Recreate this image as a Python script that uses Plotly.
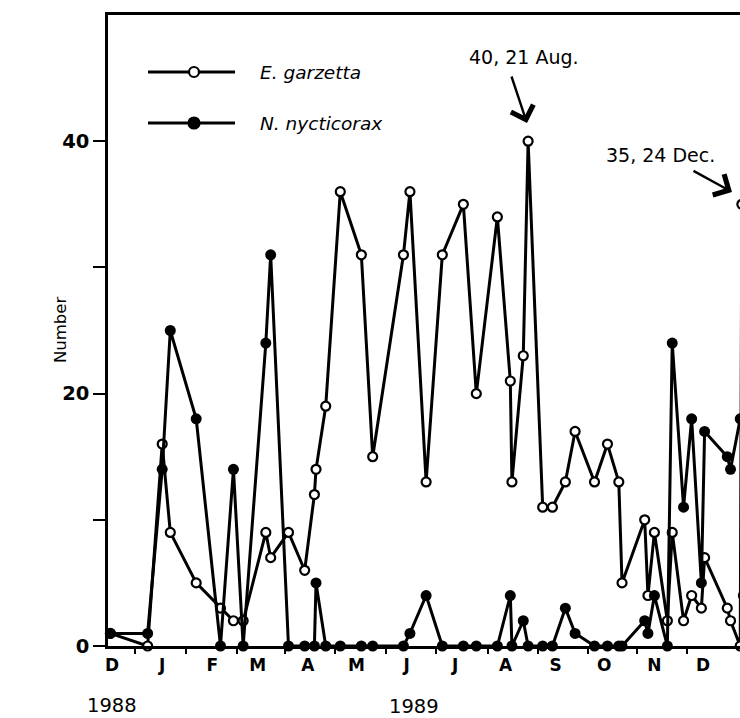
import plotly.graph_objects as go

# ---------------- data ----------------
egar_dates = [
    "1988-11-30", "1988-12-23", "1989-01-01", "1989-01-06", "1989-01-22",
    "1989-02-06", "1989-02-14", "1989-02-20", "1989-03-06", "1989-03-09",
    "1989-03-20", "1989-03-30", "1989-04-05", "1989-04-06", "1989-04-12",
    "1989-04-21", "1989-05-04", "1989-05-11", "1989-05-30", "1989-06-03",
    "1989-06-13", "1989-06-23", "1989-07-06", "1989-07-14", "1989-07-27",
    "1989-08-04", "1989-08-05", "1989-08-12", "1989-08-15", "1989-08-24",
    "1989-08-30", "1989-09-07", "1989-09-13", "1989-09-25", "1989-10-03",
    "1989-10-10", "1989-10-12", "1989-10-26", "1989-10-28", "1989-11-01",
    "1989-11-09", "1989-11-12", "1989-11-19", "1989-11-24", "1989-11-30",
    "1989-12-02", "1989-12-16", "1989-12-18", "1989-12-24",
    "1989-12-25", "1989-12-26",
]
egar_counts = [
    1, 0, 16, 9, 5,
    3, 2, 2, 9, 7,
    9, 6, 12, 14, 19,
    36, 31, 15, 31, 36,
    13, 31, 35, 20, 34,
    21, 13, 23, 40, 11,
    11, 13, 17, 13, 16,
    13, 5, 10, 4, 9,
    2, 9, 2, 4, 3,
    7, 3, 2, 0,
    35, 4,
]

nnyc_dates = [
    "1988-11-30", "1988-12-23", "1989-01-01", "1989-01-06", "1989-01-22",
    "1989-02-06", "1989-02-14", "1989-02-20", "1989-03-06", "1989-03-09",
    "1989-03-20", "1989-03-30", "1989-04-05", "1989-04-06", "1989-04-12",
    "1989-04-21", "1989-05-04", "1989-05-11", "1989-05-30", "1989-06-03",
    "1989-06-13", "1989-06-23", "1989-07-06", "1989-07-14", "1989-07-27",
    "1989-08-04", "1989-08-05", "1989-08-12", "1989-08-15", "1989-08-24",
    "1989-08-30", "1989-09-07", "1989-09-13", "1989-09-25", "1989-10-03",
    "1989-10-10", "1989-10-12", "1989-10-26", "1989-10-28", "1989-11-01",
    "1989-11-09", "1989-11-12", "1989-11-19", "1989-11-24", "1989-11-30",
    "1989-12-02", "1989-12-16", "1989-12-18", "1989-12-24",
]
nnyc_counts = [
    1, 1, 14, 25, 18,
    0, 14, 0, 24, 31,
    0, 0, 0, 5, 0,
    0, 0, 0, 0, 1,
    4, 0, 0, 0, 0,
    4, 0, 2, 0, 0,
    0, 3, 1, 0, 0,
    0, 0, 2, 1, 4,
    0, 24, 11, 18, 5,
    17, 15, 14, 18,
]

month_ticks = [
    "1988-12-01", "1989-01-01", "1989-02-01", "1989-03-01", "1989-04-01",
    "1989-05-01", "1989-06-01", "1989-07-01", "1989-08-01", "1989-09-01",
    "1989-10-01", "1989-11-01", "1989-12-01",
]
month_labels = ["D", "J", "F", "M", "A", "M", "J", "J", "A", "S", "O", "N", "D"]
minor_ticks = [
    "1988-12-15", "1989-01-16", "1989-02-16", "1989-03-18", "1989-04-18",
    "1989-05-19", "1989-06-19", "1989-07-21", "1989-08-21", "1989-09-21",
    "1989-10-21", "1989-11-21",
]
y_ticks = [0, 10, 20, 30, 40]
y_labels = ["0", "", "20", "", "40"]

series_names = ["E. garzetta", "N. nycticorax"]
peak_notes = ["40, 21 Aug.", "35, 24 Dec."]
year_labels = ["1988", "1989"]

# ---------------- figure ----------------
FONT = "DejaVu Sans"
fig = go.Figure()

fig.add_trace(go.Scatter(
    x=egar_dates, y=egar_counts, mode="lines+markers", name=series_names[0],
    line=dict(color="black", width=3),
    marker=dict(symbol="circle", size=9, color="white",
                line=dict(color="black", width=2.2)),
    cliponaxis=False, showlegend=False,
))
fig.add_trace(go.Scatter(
    x=nnyc_dates, y=nnyc_counts, mode="lines+markers", name=series_names[1],
    line=dict(color="black", width=3),
    marker=dict(symbol="circle", size=11, color="black"),
    cliponaxis=False, showlegend=False,
))

# The reference is cropped at the right: the plot area runs past the
# 740 px window (to 760 px) and the page crops it.
W, H = 760, 718
PL, PR, PT, PB = 108, 760, 15, 646
pw, ph = PR - PL, PB - PT


def px(x):
    return (x - PL) / pw


def py(y):
    return (PB - y) / ph


annotations = [
    dict(text="Number", x=px(60), y=py(330), textangle=-90,
         font=dict(family=FONT, size=16.5, color="black")),
    dict(text=year_labels[0], x=px(112), y=py(705),
         font=dict(family=FONT, size=19.5, color="black")),
    dict(text=year_labels[1], x=px(414), y=py(706),
         font=dict(family=FONT, size=19.5, color="black")),
    dict(text="<i>" + series_names[0] + "</i>", x=px(258), y=py(72),
         xanchor="left", font=dict(family=FONT, size=18.5, color="black")),
    dict(text="<i>" + series_names[1] + "</i>", x=px(258), y=py(123),
         xanchor="left", font=dict(family=FONT, size=18.5, color="black")),
    dict(text=peak_notes[0], x=px(524), y=py(57),
         font=dict(family=FONT, size=19, color="black")),
    dict(text=peak_notes[1], x=px(660), y=py(155),
         font=dict(family=FONT, size=19, color="black")),
    dict(text="", x=px(527), y=py(123), showarrow=True, axref="pixel",
         ayref="pixel", ax=-16, ay=-48, arrowhead=4, arrowsize=1.9,
         arrowwidth=2.4, arrowcolor="black"),
    dict(text="", x=px(732), y=py(192), showarrow=True, axref="pixel",
         ayref="pixel", ax=-40, ay=-22, arrowhead=4, arrowsize=1.9,
         arrowwidth=2.4, arrowcolor="black"),
]
for a in annotations:
    a.setdefault("xref", "paper")
    a.setdefault("yref", "paper")
    a.setdefault("showarrow", False)
    a.setdefault("xanchor", "center")
    a.setdefault("yanchor", "middle")

shapes = []
for ly, filled in ((72, False), (123, True)):
    shapes.append(dict(type="line", xref="paper", yref="paper",
                       x0=px(148), x1=px(235), y0=py(ly), y1=py(ly),
                       line=dict(color="black", width=3)))
    r = 5.5 if filled else 5
    shapes.append(dict(type="circle", xref="paper", yref="paper",
                       xsizemode="pixel", ysizemode="pixel",
                       xanchor=px(194), yanchor=py(ly),
                       x0=-r, x1=r, y0=-r, y1=r,
                       fillcolor="black" if filled else "white",
                       line=dict(color="black", width=2.2)))

fig.update_layout(
    width=W, height=H,
    margin=dict(l=PL, r=W - PR, t=PT, b=H - PB, pad=0),
    paper_bgcolor="white", plot_bgcolor="white",
    annotations=annotations, shapes=shapes,
    xaxis=dict(
        type="date",
        range=["1988-11-28 12:40", "1990-01-05 05:00"],
        tickmode="array", tickvals=month_ticks, ticktext=month_labels,
        ticks="outside", ticklen=2, tickcolor="rgba(0,0,0,0)",
        tickfont=dict(family=FONT, size=17, color="black", weight="bold"),
        minor=dict(tickmode="array", tickvals=minor_ticks, ticks="outside",
                   ticklen=5, tickwidth=2, tickcolor="black"),
        showline=True, linecolor="black", linewidth=2.5, mirror=True,
        showgrid=False, zeroline=False,
    ),
    yaxis=dict(
        range=[0, 50],
        tickmode="array", tickvals=y_ticks, ticktext=y_labels,
        ticks="outside", ticklen=12, tickwidth=2, tickcolor="black",
        tickfont=dict(family=FONT, size=19.5, color="black", weight="bold"),
        showline=True, linecolor="black", linewidth=2.5,
        showgrid=False, zeroline=False,
    ),
)

# remove the default 8 px page margin so the figure starts at the window's
# corner; the part beyond 740 px is cropped like in the reference
fig.write_html(
    "out.html",
    config={"displayModeBar": False},
    post_script="document.body.style.margin='0';"
                "document.body.style.overflow='hidden';",
)
